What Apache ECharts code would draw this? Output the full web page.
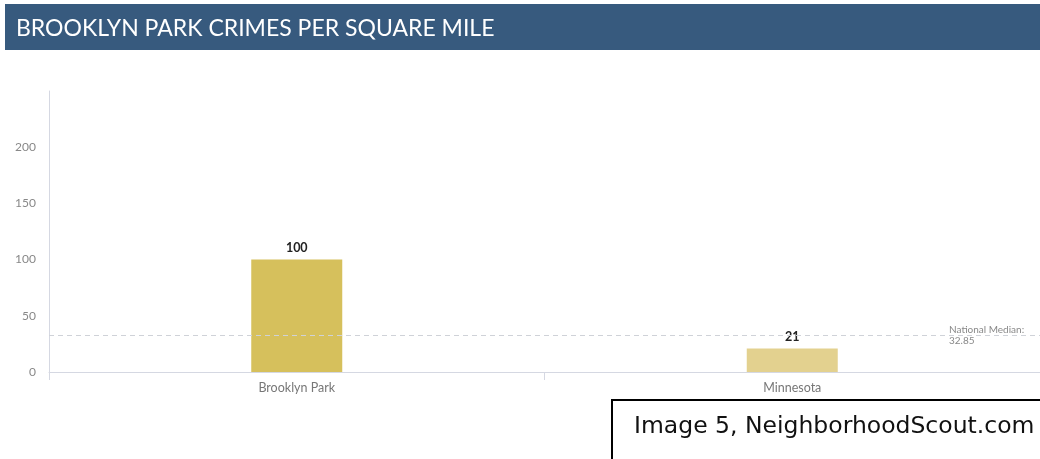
<!DOCTYPE html>
<html>
<head>
<meta charset="utf-8">
<script src="https://cdn.jsdelivr.net/npm/echarts@6/dist/echarts.min.js"></script>
<style>
  html, body { margin: 0; padding: 0; background: #fff; }
  #chart { width: 1040px; height: 459px; }
</style>
</head>
<body>
<div id="chart"></div>
<script>
// data
const categories = ['Brooklyn Park', 'Minnesota'];
const crimesPerSqMile = [100, 21];
const barColors = ['#d6c05c', '#e3d18f'];
const nationalMedian = 32.85;
const titleText = 'BROOKLYN PARK CRIMES PER SQUARE MILE';
const captionText = 'Image 5, NeighborhoodScout.com';

const chart = echarts.init(document.getElementById('chart'));

chart.setOption({
  animation: false,
  textStyle: { fontFamily: 'Lato' },
  title: {
    text: titleText,
    left: 11,
    top: 12,
    textStyle: { color: '#fff', fontSize: 23, fontWeight: 'normal', fontFamily: 'Lato' }
  },
  graphic: [
    {
      type: 'rect', z: -1,
      shape: { x: 5, y: 4, width: 1040, height: 46 },
      style: { fill: '#375a7e' }
    },
    {
      type: 'rect', z: 10,
      shape: { x: 612, y: 400, width: 440, height: 70 },
      style: { fill: '#fff', stroke: '#000', lineWidth: 2 }
    },
    {
      type: 'text', z: 11,
      x: 634, y: 427,
      style: {
        text: captionText, fill: '#111', fontSize: 23.5,
        fontFamily: 'DejaVu Sans', verticalAlign: 'middle'
      }
    }
  ],
  grid: { left: 49, top: 91, width: 994, height: 281 },
  xAxis: {
    type: 'category',
    data: categories,
    axisLine: { lineStyle: { color: '#d5d8e2' } },
    axisTick: { show: true, length: 8, lineStyle: { color: '#d5d8e2' } },
    axisLabel: { color: '#777', fontSize: 12.5, margin: 9 }
  },
  yAxis: {
    type: 'value',
    min: 0, max: 250, interval: 50,
    axisLine: { show: true, lineStyle: { color: '#d5d8e2' } },
    axisTick: { show: false },
    splitLine: { show: false },
    axisLabel: { color: '#888', fontSize: 12, margin: 13, showMaxLabel: false }
  },
  series: [{
    type: 'bar',
    barWidth: 91,
    data: crimesPerSqMile.map((v, i) => ({ value: v, itemStyle: { color: barColors[i] } })),
    label: {
      show: true, position: 'top', distance: 5,
      color: '#222', fontSize: 12.5, fontWeight: 'bold'
    },
    markLine: {
      silent: true,
      symbol: 'none',
      lineStyle: { color: '#cfd2d8', type: [5, 4], width: 1 },
      label: {
        position: 'end',
        offset: [-96, 0],
        formatter: 'National Median:\n' + nationalMedian,
        color: '#888', fontSize: 10, align: 'left', lineHeight: 11
      },
      data: [{ yAxis: nationalMedian }]
    }
  }]
});
</script>
</body>
</html>
